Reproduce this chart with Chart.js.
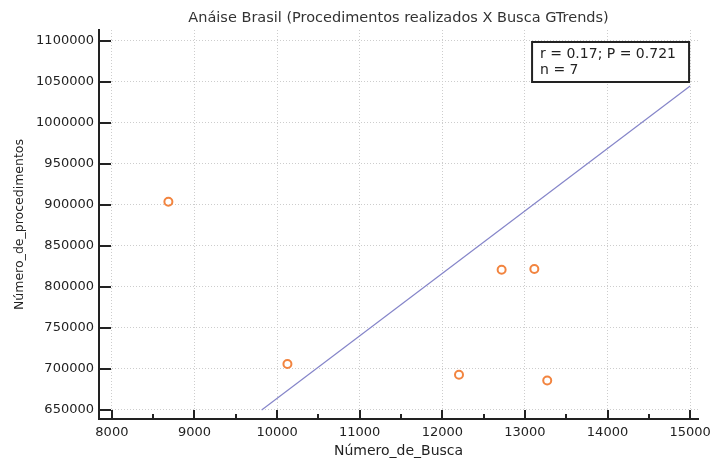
<!DOCTYPE html>
<html>
<head>
<meta charset="utf-8">
<script src="https://cdn.jsdelivr.net/npm/chart.js@4.4.1/dist/chart.umd.min.js"></script>
<style>
  html, body { margin: 0; padding: 0; background: #fff; }
  #wrap { width: 717px; height: 460px; }
</style>
</head>
<body>
<div id="wrap"><canvas id="scatterChart"></canvas></div>
<script>
// Dados
const buscaValues = [8684, 10125, 12202, 12718, 13114, 13270];
const procedimentosValues = [904000, 706000, 693000, 821000, 822000, 686000];
const retaX = [9813, 15000];
const retaY = [650000, 1045000];
const xTicks = [8000, 9000, 10000, 11000, 12000, 13000, 14000, 15000];
const xMinorTicks = [8500, 9500, 10500, 11500, 12500, 13500, 14500];
const yTicks = [650000, 700000, 750000, 800000, 850000, 900000, 950000, 1000000, 1050000, 1100000];
const tituloTexto = 'Anáise Brasil (Procedimentos realizados X Busca GTrends)';
const caixaTexto = ['r = 0.17; P = 0.721', 'n = 7'];

const fonte = 'DejaVu Sans';
const corTexto = '#222';

// Título, marcas internas dos eixos e caixa de estatística
const extras = {
  id: 'extras',
  afterDraw(chart) {
    const ctx = chart.ctx;
    const area = chart.chartArea;
    const sx = chart.scales.x;
    const sy = chart.scales.y;
    ctx.save();

    ctx.fillStyle = '#333';
    ctx.font = '14.5px "' + fonte + '"';
    ctx.textAlign = 'center';
    ctx.textBaseline = 'middle';
    ctx.fillText(tituloTexto, (area.left + area.right) / 2, 18);

    ctx.strokeStyle = '#222';
    ctx.lineWidth = 2;
    ctx.beginPath();
    xTicks.forEach(v => {
      const px = Math.round(sx.getPixelForValue(v));
      ctx.moveTo(px, area.bottom);
      ctx.lineTo(px, area.bottom - 9);
    });
    xMinorTicks.forEach(v => {
      const px = Math.round(sx.getPixelForValue(v));
      ctx.moveTo(px, area.bottom);
      ctx.lineTo(px, area.bottom - 5);
    });
    yTicks.forEach(v => {
      const py = Math.round(sy.getPixelForValue(v));
      ctx.moveTo(area.left, py);
      ctx.lineTo(area.left + 12, py);
    });
    ctx.stroke();

    const bx = area.right - 166, by = 42, bw = 157, bh = 40;
    ctx.fillStyle = '#fff';
    ctx.fillRect(bx, by, bw, bh);
    ctx.strokeRect(bx, by, bw, bh);
    ctx.fillStyle = corTexto;
    ctx.font = '14px "' + fonte + '"';
    ctx.textAlign = 'left';
    ctx.textBaseline = 'middle';
    ctx.fillText(caixaTexto[0], bx + 8, by + 12);
    ctx.fillText(caixaTexto[1], bx + 8, by + 28);
    ctx.restore();
  }
};

const gridComum = {
  color: '#cdcdcd',
  lineWidth: 1,
  drawTicks: false
};

const chart = new Chart(document.getElementById('scatterChart'), {
  type: 'scatter',
  data: {
    datasets: [
      {
        label: 'Estados',
        data: buscaValues.map((x, i) => ({ x: x, y: procedimentosValues[i] })),
        showLine: false,
        pointRadius: 4,
        pointHoverRadius: 4,
        pointBorderWidth: 2,
        borderColor: '#f2843f',
        backgroundColor: 'rgba(255,255,255,0)'
      },
      {
        label: 'Regressão',
        data: retaX.map((x, i) => ({ x: x, y: retaY[i] })),
        showLine: true,
        pointRadius: 0,
        borderColor: '#8585c9',
        borderWidth: 1.2,
        fill: false
      }
    ]
  },
  options: {
    responsive: true,
    maintainAspectRatio: false,
    animation: false,
    layout: { padding: { top: 30, right: 14, left: 0, bottom: 0 } },
    plugins: {
      legend: { display: false },
      title: { display: false },
      tooltip: { enabled: false }
    },
    scales: {
      x: {
        type: 'linear',
        min: 7844,
        max: 15096,
        afterBuildTicks: scale => { scale.ticks = xTicks.map(v => ({ value: v })); },
        afterFit: scale => { scale.height = 41; },
        grid: gridComum,
        border: { display: true, color: '#222', width: 2, dash: [1, 2] },
        ticks: {
          padding: 6,
          color: corTexto,
          font: { family: fonte, size: 13 },
          callback: v => String(v)
        },
        title: {
          display: true,
          text: 'Número_de_Busca',
          color: corTexto,
          font: { family: fonte, size: 14 },
          padding: { top: 0, bottom: 0 }
        }
      },
      y: {
        type: 'linear',
        min: 639000,
        max: 1113400,
        afterBuildTicks: scale => { scale.ticks = yTicks.map(v => ({ value: v })); },
        afterFit: scale => { scale.width = 99; },
        grid: gridComum,
        border: { display: true, color: '#222', width: 2, dash: [1, 2] },
        ticks: {
          padding: 5,
          color: corTexto,
          font: { family: fonte, size: 13 },
          callback: v => String(v)
        },
        title: {
          display: true,
          text: 'Número_de_procedimentos',
          color: corTexto,
          font: { family: fonte, size: 12.5 },
          padding: { top: 12, bottom: 0 }
        }
      }
    }
  },
  plugins: [extras]
});
</script>
</body>
</html>
